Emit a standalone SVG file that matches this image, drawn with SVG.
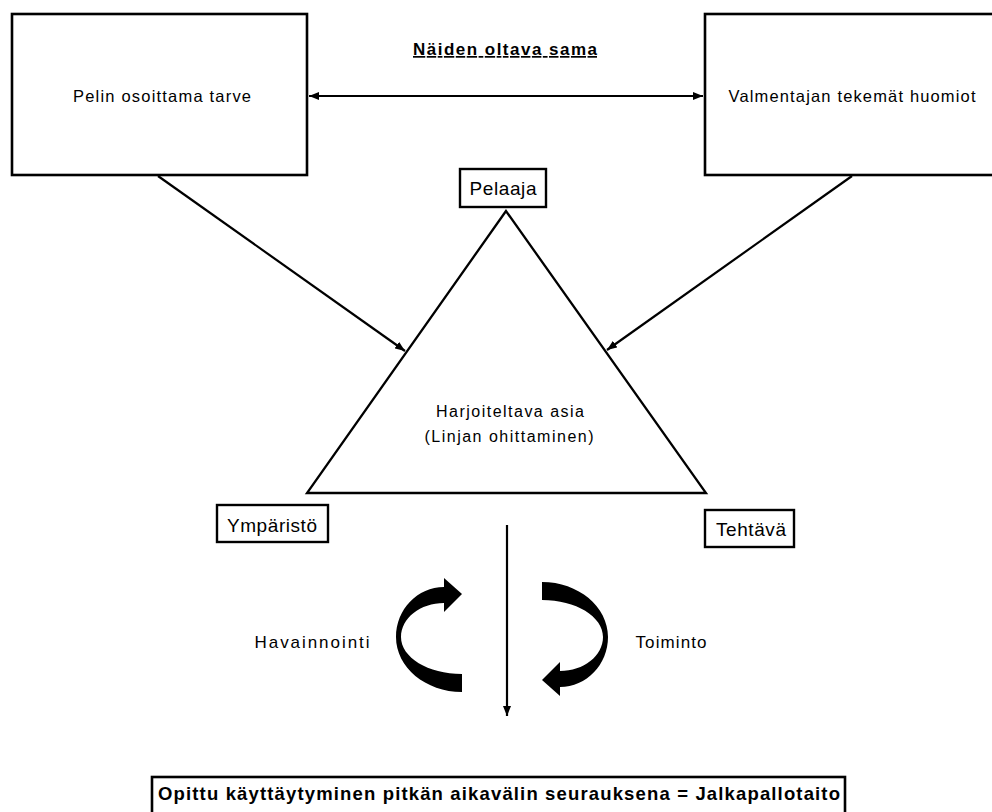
<svg xmlns="http://www.w3.org/2000/svg" width="992" height="812" viewBox="0 0 992 812">
<style>
.box{fill:#fff;stroke:#000;stroke-width:2.6}
.small{fill:#fff;stroke:#000;stroke-width:2.4}
.t{font-family:"Liberation Sans",Arial,sans-serif;fill:#000}
.ln{stroke:#000;stroke-width:2.2;fill:none}
</style>
<defs>
<marker id="ah" viewBox="0 0 10 8" refX="10" refY="4" markerWidth="10" markerHeight="8" markerUnits="userSpaceOnUse" orient="auto-start-reverse">
<path d="M0,0 L10,4 L0,8 Z" fill="#000"/>
</marker>
</defs>
<rect width="992" height="812" fill="#fff"/>
<g id="title">
<text class="t" x="505" y="55" font-size="17" font-weight="bold" text-anchor="middle" text-decoration="underline" textLength="184" lengthAdjust="spacing">Näiden oltava sama</text>
</g>
<g id="node-peli">
<rect class="box" x="12" y="14" width="295" height="161"/>
<text class="t" x="162" y="102" font-size="16.5" text-anchor="middle" textLength="178" lengthAdjust="spacing">Pelin osoittama tarve</text>
</g>
<g id="node-valmentaja">
<rect class="box" x="705" y="14" width="300" height="161"/>
<text class="t" x="852" y="102" font-size="16.5" text-anchor="middle" textLength="247" lengthAdjust="spacing">Valmentajan tekemät huomiot</text>
</g>
<g id="node-triangle">
<polygon points="506,211 307,493 706,493" fill="#fff" stroke="#000" stroke-width="2.3" stroke-linejoin="miter"/>
<text class="t" x="510" y="417" font-size="16" text-anchor="middle" textLength="148" lengthAdjust="spacing">Harjoiteltava asia</text>
<text class="t" x="509" y="442" font-size="16" text-anchor="middle" textLength="169" lengthAdjust="spacing">(Linjan ohittaminen)</text>
</g>
<g id="node-pelaaja">
<rect class="small" x="460" y="169" width="86" height="38"/>
<text class="t" x="503" y="195" font-size="19" text-anchor="middle" textLength="67" lengthAdjust="spacing">Pelaaja</text>
</g>
<g id="node-ymparisto">
<rect class="small" x="217" y="505" width="111" height="37"/>
<text class="t" x="272" y="532" font-size="19" text-anchor="middle" textLength="90" lengthAdjust="spacing">Ympäristö</text>
</g>
<g id="node-tehtava">
<rect class="small" x="705" y="510" width="89" height="37"/>
<text class="t" x="751" y="536" font-size="19" text-anchor="middle" textLength="70" lengthAdjust="spacing">Tehtävä</text>
</g>
<g id="node-havainnointi">
<text class="t" x="312" y="648" font-size="17" text-anchor="middle" textLength="115" lengthAdjust="spacing">Havainnointi</text>
</g>
<g id="node-toiminto">
<text class="t" x="671" y="648" font-size="17" text-anchor="middle" textLength="71" lengthAdjust="spacing">Toiminto</text>
</g>
<g id="node-cycle">
<path d="M462,674 C428,674 401,657.4 401,637 C401,618.2 420.3,603 444,603 L444,612 L462,594 L444,578 L444,587 C417.5,587 396,609.4 396,637 C396,667.4 425.6,692 462,692 Z" fill="#000"/>
<path d="M462,674 C428,674 401,657.4 401,637 C401,618.2 420.3,603 444,603 L444,612 L462,594 L444,578 L444,587 C417.5,587 396,609.4 396,637 C396,667.4 425.6,692 462,692 Z" fill="#000" transform="rotate(180 502 637)"/>
</g>
<g id="node-result">
<rect class="box" x="152" y="777" width="693" height="45"/>
<text class="t" x="499" y="800" font-size="18.5" font-weight="bold" text-anchor="middle" textLength="682" lengthAdjust="spacing">Opittu käyttäytyminen pitkän aikavälin seurauksena = Jalkapallotaito</text>
</g>
<g id="connectors">
<line class="ln" x1="309" y1="96" x2="703" y2="96" marker-start="url(#ah)" marker-end="url(#ah)"/>
<line class="ln" x1="158" y1="176" x2="405" y2="351" marker-end="url(#ah)"/>
<line class="ln" x1="852" y1="176" x2="607" y2="350" marker-end="url(#ah)"/>
<line class="ln" x1="507" y1="525" x2="507" y2="716" marker-end="url(#ah)"/>
</g>
</svg>
